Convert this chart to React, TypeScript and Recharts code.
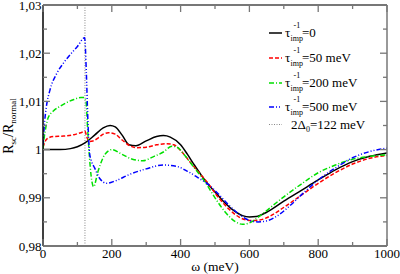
import React from 'react';
import { LineChart, Line, XAxis, YAxis, ReferenceLine } from 'recharts';

// ---- data ----
const omegaTau0 = [0, 50, 80, 100, 122, 150, 175, 195, 210, 230, 250, 270, 300, 330, 350, 370, 400, 420, 440, 460, 480, 500, 520, 550, 580, 600, 620, 650, 700, 750, 800, 850, 900, 950, 1000];
const rTau0 = [1.0, 1.0, 1.0002, 1.0006, 1.0014, 1.003, 1.0045, 1.005, 1.0047, 1.003, 1.001, 1.0008, 1.0018, 1.0027, 1.0029, 1.0026, 1.001, 0.999, 0.9968, 0.9947, 0.9928, 0.9912, 0.9896, 0.9876, 0.9863, 0.986, 0.9861, 0.987, 0.9893, 0.9915, 0.9937, 0.9958, 0.9975, 0.9986, 0.9993];

const omegaTau50 = [0, 5, 15, 30, 60, 90, 110, 122, 128, 135, 145, 160, 175, 190, 210, 230, 250, 270, 300, 330, 360, 380, 400, 430, 460, 480, 500, 540, 570, 600, 630, 660, 700, 750, 800, 850, 900, 950, 1000];
const rTau50 = [1.0005, 1.0015, 1.0024, 1.0027, 1.0028, 1.0031, 1.0035, 1.0038, 1.0025, 1.0017, 1.0018, 1.0024, 1.0032, 1.0035, 1.0032, 1.002, 1.0009, 1.0004, 1.0005, 1.001, 1.0012, 1.001, 0.9998, 0.9972, 0.9947, 0.993, 0.991, 0.9877, 0.986, 0.9853, 0.9854, 0.9862, 0.988, 0.9905, 0.993, 0.9952, 0.997, 0.9982, 0.9988];

const omegaTau200 = [0, 3, 8, 15, 30, 50, 70, 90, 110, 120, 125, 130, 135, 140, 147, 160, 180, 200, 230, 260, 290, 320, 350, 375, 390, 410, 440, 470, 500, 530, 560, 580, 600, 630, 670, 700, 750, 800, 850, 900, 950, 1000];
const rTau200 = [1.0, 1.0022, 1.0045, 1.0066, 1.008, 1.009, 1.0098, 1.0104, 1.0108, 1.0108, 1.01, 1.004, 0.9985, 0.9945, 0.9923, 0.9955, 0.999, 1.0, 0.999, 0.998, 0.9977, 0.9985, 0.9995, 1.0007, 1.0005, 0.999, 0.9962, 0.9934, 0.99, 0.987, 0.985, 0.9845, 0.9848, 0.9862, 0.9885, 0.9902, 0.9928, 0.9952, 0.9968, 0.998, 0.9986, 0.9989];

const omegaTau500 = [0, 5, 10, 20, 40, 60, 80, 100, 121, 126, 130, 135, 140, 150, 165, 185, 210, 250, 300, 350, 390, 420, 450, 480, 510, 540, 570, 600, 625, 650, 680, 720, 760, 800, 850, 900, 950, 1000];
const rTau500 = [1.001, 1.006, 1.009, 1.0123, 1.0158, 1.018, 1.0198, 1.0214, 1.0232, 1.016, 1.007, 0.9995, 0.9978, 0.9962, 0.994, 0.993, 0.9935, 0.9948, 0.996, 0.9968, 0.9965, 0.9955, 0.9942, 0.9928, 0.9908, 0.9885, 0.9866, 0.9853, 0.985, 0.9852, 0.9862, 0.9885, 0.9912, 0.9937, 0.9962, 0.9983, 0.9996, 1.0003];

const gapOmega = 122;

const xTicks = [0, 100, 200, 300, 400, 500, 600, 700, 800, 900, 1000];
const yTicks = [0.98, 0.985, 0.99, 0.995, 1.0, 1.005, 1.01, 1.015, 1.02, 1.025, 1.03];

const zip = (xs: number[], ys: number[]) => xs.map((x, i) => ({ w: x, r: ys[i] }));

const series = [
  { key: 't0', data: zip(omegaTau0, rTau0), color: '#000000', dash: undefined as string | undefined, value: '=0' },
  { key: 't50', data: zip(omegaTau50, rTau50), color: '#ff0000', dash: '4 2', value: '=50 meV' },
  { key: 't200', data: zip(omegaTau200, rTau200), color: '#00e000', dash: '5 2 1 2', value: '=200 meV' },
  { key: 't500', data: zip(omegaTau500, rTau500), color: '#0000ff', dash: '5 2 1 2 1 2', value: '=500 meV' },
];

const FONT = '"Liberation Serif", "Times New Roman", serif';
const TICK = '#777';

const isMajorX = (v: number) => Math.round(v) % 200 === 0;
const isMajorY = (v: number) => Math.round(v * 1000) % 10 === 0;
const fmtY = (v: number) => (Math.abs(v - 1) < 1e-9 ? '1' : v.toFixed(2).replace('.', ','));

const txt = { fontFamily: FONT, fill: '#000' } as React.CSSProperties;

const BottomTick = (p: any) => {
  const { x, y, payload } = p;
  const major = isMajorX(payload.value);
  return (
    <g>
      <line x1={x} x2={x} y1={y} y2={y - (major ? 7 : 4)} stroke={TICK} strokeWidth={1.3} />
      {major && (
        <text x={x} y={y + 12} textAnchor="middle" style={{ ...txt, fontSize: 13 }}>
          {payload.value}
        </text>
      )}
    </g>
  );
};
const TopTick = (p: any) => {
  const { x, y, payload } = p;
  const major = isMajorX(payload.value);
  return <line x1={x} x2={x} y1={y} y2={y + (major ? 7 : 4)} stroke={TICK} strokeWidth={1.3} />;
};
const LeftTick = (p: any) => {
  const { x, y, payload } = p;
  const major = isMajorY(payload.value);
  return (
    <g>
      <line x1={x} x2={x + (major ? 7 : 4)} y1={y} y2={y} stroke={TICK} strokeWidth={1.3} />
      {major && (
        <text x={x - 1.5} y={y + 4.5} textAnchor="end" style={{ ...txt, fontSize: 13 }}>
          {fmtY(payload.value)}
        </text>
      )}
    </g>
  );
};
const RightTick = (p: any) => {
  const { x, y, payload } = p;
  const major = isMajorY(payload.value);
  return <line x1={x} x2={x - (major ? 7 : 4)} y1={y} y2={y} stroke={TICK} strokeWidth={1.3} />;
};

const legendRows = [33, 58, 83, 107];

const Overlay = () => (
  <svg width={400} height={274} style={{ position: 'absolute', left: 0, top: 0, pointerEvents: 'none' }}>
    {series.map((s, i) => {
      const ry = legendRows[i];
      return (
        <g key={s.key}>
          <line x1={269} x2={282} y1={ry} y2={ry} stroke={s.color} strokeWidth={1.5} strokeDasharray={s.dash} />
          <text x={285} y={ry + 4} style={{ ...txt, fontSize: 13 }}>τ</text>
          <text x={290.5} y={ry + 7.5} style={{ ...txt, fontSize: 8 }}>imp</text>
          <text x={293.5} y={ry - 5.5} style={{ ...txt, fontSize: 8 }}>-1</text>
          <text x={302} y={ry + 4} style={{ ...txt, fontSize: 13 }}>{s.value}</text>
        </g>
      );
    })}
    <line x1={269} x2={282} y1={124.5} y2={124.5} stroke="#888" strokeWidth={1} strokeDasharray="1 1.5" />
    <text x={291} y={129} style={{ ...txt, fontSize: 13 }}>
      2Δ<tspan style={{ fontSize: 8 }} dy={2.5}>0</tspan>
      <tspan dy={-2.5}>=122 meV</tspan>
    </text>
    <text x={215} y={271} textAnchor="middle" style={{ ...txt, fontSize: 13.5 }}>ω (meV)</text>
    <text x={13} y={126} transform="rotate(-90 13 126)" textAnchor="middle" style={{ ...txt, fontSize: 14 }}>
      R<tspan style={{ fontSize: 9 }} dy={3}>sc</tspan>
      <tspan dy={-3}>/R</tspan>
      <tspan style={{ fontSize: 9 }} dy={3}>normal</tspan>
    </text>
  </svg>
);

export default function App() {
  return (
    <div style={{ position: 'absolute', left: 0, top: 0, width: 400, height: 274, background: '#fff' }}>
      <LineChart width={400} height={274} data={series[0].data} margin={{ top: 0, right: 0, bottom: 0, left: 0 }}>
        <XAxis
          dataKey="w"
          type="number"
          domain={[0, 1000]}
          ticks={xTicks}
          interval={0}
          allowDataOverflow
          height={28}
          tickSize={0}
          tickMargin={0}
          tickLine={false}
          tick={BottomTick}
          axisLine={{ stroke: '#777', strokeWidth: 2 }}
        />
        <XAxis
          xAxisId="top"
          orientation="top"
          dataKey="w"
          type="number"
          domain={[0, 1000]}
          ticks={xTicks}
          interval={0}
          allowDataOverflow
          height={5}
          tickSize={0}
          tickMargin={0}
          tickLine={false}
          tick={TopTick}
          axisLine={{ stroke: '#777', strokeWidth: 2 }}
        />
        <YAxis
          type="number"
          domain={[0.98, 1.03]}
          ticks={yTicks}
          interval={0}
          allowDataOverflow
          width={43}
          tickSize={0}
          tickMargin={0}
          tickLine={false}
          tick={LeftTick}
          axisLine={{ stroke: '#000', strokeWidth: 1.5 }}
        />
        <YAxis
          yAxisId="right"
          orientation="right"
          type="number"
          domain={[0.98, 1.03]}
          ticks={yTicks}
          interval={0}
          allowDataOverflow
          width={13}
          tickSize={0}
          tickMargin={0}
          tickLine={false}
          tick={RightTick}
          axisLine={{ stroke: '#777', strokeWidth: 1.5 }}
        />
        <ReferenceLine x={gapOmega} stroke="#888" strokeWidth={1} strokeDasharray="1 1.5" />
        {series.map((s) => (
          <Line
            key={s.key}
            data={s.data}
            dataKey="r"
            type="monotone"
            stroke={s.color}
            strokeWidth={1.5}
            strokeDasharray={s.dash}
            dot={false}
            activeDot={false}
            isAnimationActive={false}
          />
        ))}
      </LineChart>
      <Overlay />
    </div>
  );
}
